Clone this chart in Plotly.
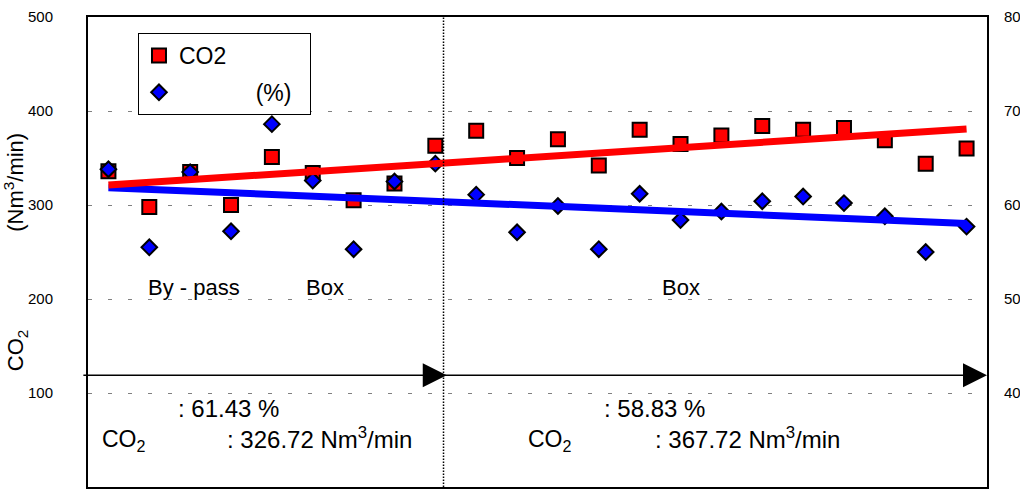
import numpy as np
import plotly.graph_objects as go

# Sample index along the run (one point per measurement)
samples = list(range(1, 23))

# CO2 flow rate, Nm3/min (left axis)
co2_flow = [336, 298, 335, 300, 351, 334, 305, 323, 363,
            379, 350, 370, 342, 380, 365, 374, 384, 380, 382, 369, 344, 360]

# Ratio, % (right axis)
ratio_pct = [63.8, 55.5, 63.5, 57.2, 68.6, 62.6, 55.3, 62.5, 64.4,
             61.1, 57.1, 59.9, 55.3, 61.2, 58.4, 59.3, 60.4, 60.9, 60.2, 58.8, 55.0, 57.7]

# Boundary between the two operating periods (sample axis)
period_split = 9.2
period_labels = ["By - pass", "Box", "Box"]
period_avg_pct = ["61.43", "58.83"]
period_avg_co2 = ["326.72", "367.72"]

left_ticks = [0, 100, 200, 300, 400, 500]
right_ticks = [30, 40, 50, 60, 70, 80]

FONT = "Liberation Sans, Arial, sans-serif"
NBSP = "\u00a0"

# Linear trend lines fitted over all samples
x_arr = np.array(samples, dtype=float)
co2_fit = np.polyval(np.polyfit(x_arr, co2_flow, 1), x_arr)
pct_fit = np.polyval(np.polyfit(x_arr, ratio_pct, 1), x_arr)

fig = go.Figure()

fig.add_trace(go.Scatter(
    x=samples, y=co2_flow, mode="markers", name="CO2",
    legendgroup="a",
    marker=dict(symbol="square", size=14, color="#ff0000",
                line=dict(color="#000000", width=2)),
    yaxis="y",
))
fig.add_trace(go.Scatter(
    x=samples, y=ratio_pct, mode="markers",
    name=NBSP * 12 + "(%)" + NBSP * 2,
    legendgroup="b",
    marker=dict(symbol="diamond", size=12, color="#0000ff",
                line=dict(color="#000000", width=2)),
    yaxis="y2",
))
fig.add_trace(go.Scatter(
    x=[samples[0], samples[-1]], y=[pct_fit[0], pct_fit[-1]], mode="lines",
    line=dict(color="#0000ff", width=7), showlegend=False, yaxis="y2",
    hoverinfo="skip",
))
fig.add_trace(go.Scatter(
    x=[samples[0], samples[-1]], y=[co2_fit[0], co2_fit[-1]], mode="lines",
    line=dict(color="#ff0000", width=7), showlegend=False, yaxis="y3",
    hoverinfo="skip",
))

annotations = []
# Period arrows
arrow_y = 119
for x0, x1 in [(0.35, period_split + 0.08), (period_split, 22.5)]:
    annotations.append(dict(
        x=x1, y=arrow_y, ax=x0, ay=arrow_y, xref="x", yref="y",
        axref="x", ayref="y", text="", showarrow=True,
        arrowhead=2, arrowsize=3.2, arrowwidth=1.5, arrowcolor="#000000",
        standoff=0, startstandoff=0,
    ))

# Period names
for txt, xp in zip(period_labels, [3.1, 6.3, 15.0]):
    annotations.append(dict(x=xp, y=212, xref="x", yref="y", text=txt,
                            showarrow=False, xanchor="center", yanchor="middle",
                            font=dict(size=22, color="#000000", family=FONT)))

# Period averages
for i, (xp_pct, xp_lab, xp_val) in enumerate([(2.65, 0.79, 3.85), (13.08, 11.22, 14.32)]):
    annotations.append(dict(x=xp_pct, y=83, xref="x", yref="y",
                            text=": " + period_avg_pct[i] + " %",
                            showarrow=False, xanchor="left", yanchor="middle",
                            font=dict(size=24, color="#000000", family=FONT)))
    annotations.append(dict(x=xp_lab, y=50, xref="x", yref="y",
                            text="CO<sub>2</sub>",
                            showarrow=False, xanchor="left", yanchor="middle",
                            font=dict(size=23, color="#000000", family=FONT)))
    annotations.append(dict(x=xp_val, y=52, xref="x", yref="y",
                            text=": " + period_avg_co2[i] + " Nm<sup>3</sup>/min",
                            showarrow=False, xanchor="left", yanchor="middle",
                            font=dict(size=24, color="#000000", family=FONT)))

fig.update_layout(
    width=1020, height=495,
    margin=dict(l=88, r=33, t=17, b=8, autoexpand=False),
    paper_bgcolor="#ffffff", plot_bgcolor="#ffffff",
    font=dict(family=FONT, color="#000000"),
    showlegend=True,
    legend=dict(x=0.0556, y=0.966, xanchor="left", yanchor="top",
                bgcolor="#ffffff", bordercolor="#000000", borderwidth=1,
                font=dict(size=23, color="#000000", family=FONT),
                tracegroupgap=4, itemsizing="trace"),
    xaxis=dict(range=[0.5, 22.5], showticklabels=False, showgrid=False,
               zeroline=False, showline=True, linecolor="#000000", linewidth=2,
               mirror=True, ticks="", automargin=False),
    yaxis=dict(range=[0, 500], tickvals=left_ticks, showgrid=True,
               gridcolor="#808080", gridwidth=1, griddash="4px,16px",
               zeroline=False, showline=True, linecolor="#000000", linewidth=2,
               ticks="", ticklabelstandoff=30, automargin=False,
               tickfont=dict(size=15, color="#000000", family=FONT),
               title=dict(text="\u2003\u2003CO<sub>2</sub>" + NBSP * 16 + "(Nm<sup>3</sup>/min)",
                          font=dict(size=22, color="#000000", family=FONT),
                          standoff=8)),
    yaxis2=dict(range=[30, 80], tickvals=right_ticks, overlaying="y", side="right",
                showgrid=False, zeroline=False, showline=True, linecolor="#000000",
                linewidth=2, ticks="", ticklabelstandoff=12, automargin=False,
                tickfont=dict(size=15, color="#000000", family=FONT)),
    yaxis3=dict(range=[0, 500], overlaying="y", visible=False, automargin=False),
    shapes=[dict(type="line", xref="x", yref="paper", x0=period_split, x1=period_split,
                 y0=0, y1=1, line=dict(color="#000000", width=1.5, dash="1.5px,1.5px"))],
    annotations=annotations,
)

fig.write_html("out.html")
